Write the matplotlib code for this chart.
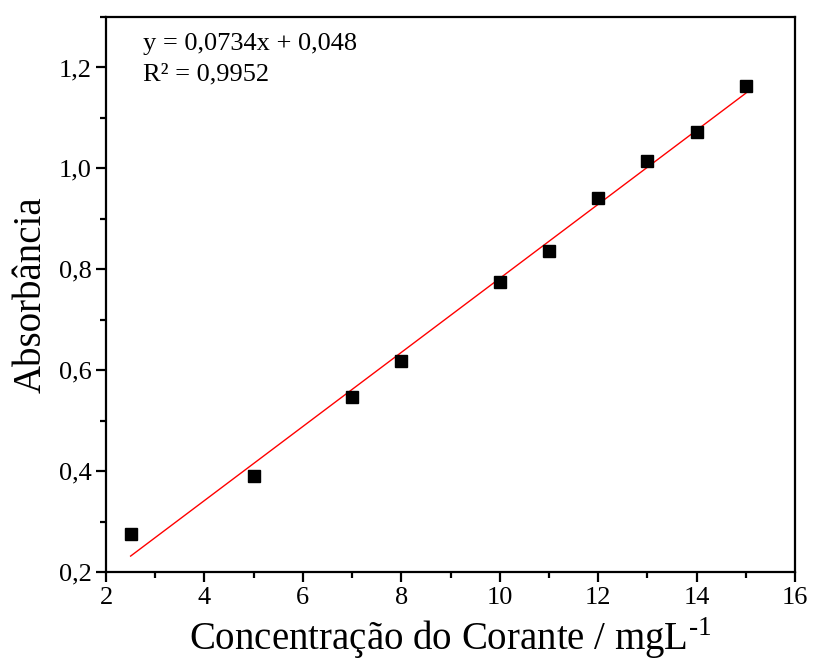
import matplotlib
matplotlib.use("Agg")
import matplotlib.pyplot as plt
import numpy as np
from matplotlib.ticker import MultipleLocator, FuncFormatter

# dados da curva de calibração
concentracao = [2.5, 5, 7, 8, 10, 11, 12, 13, 14, 15]
absorbancia = [0.275, 0.390, 0.547, 0.619, 0.774, 0.837, 0.941, 1.014, 1.072, 1.163]
slope, intercept = 0.0734, 0.048

plt.rcParams['font.family'] = ['Liberation Serif', 'DejaVu Serif']
plt.rcParams['mathtext.fontset'] = 'custom'
plt.rcParams['mathtext.rm'] = 'Liberation Serif'

fig = plt.figure(figsize=(8.13, 6.62), dpi=100)
ax = fig.add_axes([0.1304, 0.136, 0.8475, 0.8383])

# reta ajustada
xf = np.array([concentracao[0], concentracao[-1]])
ax.plot(xf, slope * xf + intercept, color='red', lw=1.0, zorder=2)
ax.plot(concentracao, absorbancia, 's', color='black', markersize=9, zorder=3)

ax.set_xlim(2, 16)
ax.set_ylim(0.2, 1.3)
ax.xaxis.set_major_locator(MultipleLocator(2))
ax.xaxis.set_minor_locator(MultipleLocator(1))
ax.yaxis.set_major_locator(MultipleLocator(0.2))
ax.yaxis.set_minor_locator(MultipleLocator(0.1))
ax.yaxis.set_major_formatter(FuncFormatter(lambda v, p: f"{v:.1f}".replace('.', ',')))

for s in ax.spines.values():
    s.set_linewidth(1.6)
ax.tick_params(which='major', direction='out', length=7, width=1.6, labelsize=19,
               top=False, right=False)
ax.tick_params(which='minor', direction='out', length=4, width=1.6, top=False, right=False)

ax.set_xlabel('Concentração do Corante / mgL$^{\\text{-1}}$', fontsize=28, labelpad=5)
ax.set_ylabel('Absorbância', fontsize=28, labelpad=6)

ax.text(0.054, 0.972, 'y = 0,0734x + 0,048\nR² = 0,9952', transform=ax.transAxes,
        fontsize=19, va='top', ha='left', linespacing=1.5)

fig.savefig('out.png', dpi=100)
